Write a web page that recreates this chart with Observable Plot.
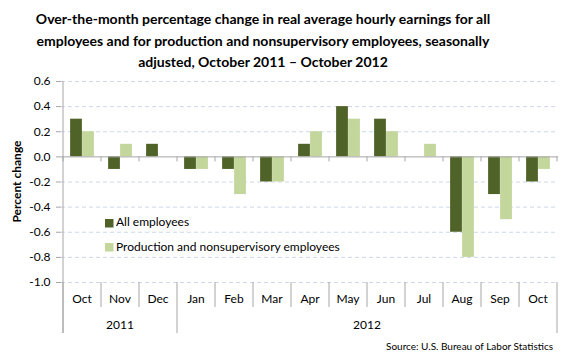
<!DOCTYPE html>
<html><head><meta charset="utf-8">
<script src="https://cdn.jsdelivr.net/npm/d3@7"></script>
<script src="https://cdn.jsdelivr.net/npm/@observablehq/plot@0.6"></script>
<style>
body{margin:0;background:#fff;}
#wrap{width:580px;height:363px;position:relative;overflow:hidden;font-family:Lato, sans-serif;}
#title{box-sizing:border-box;height:70px;padding-top:8px;width:526px;text-align:center;font-weight:bold;font-size:14px;line-height:21.5px;color:#000;white-space:nowrap;}
</style></head><body>
<div id="wrap"><div id="title">Over-the-month percentage change in real average hourly earnings for all<br>employees and for production and nonsupervisory employees, seasonally<br>adjusted, October 2011 – October 2012</div><div id="chart"></div></div>
<script>
const months = ["Oct","Nov","Dec","Jan","Feb","Mar","Apr","May","Jun","Jul","Aug","Sep","Oct"];
const years = ["2011","2011","2011","2012","2012","2012","2012","2012","2012","2012","2012","2012","2012"];
const allEmployees = [0.3,-0.1,0.1,-0.1,-0.1,-0.2,0.1,0.4,0.3,0.0,-0.6,-0.3,-0.2];
const productionNonsupervisory = [0.2,0.1,0.0,-0.1,-0.3,-0.2,0.2,0.3,0.2,0.1,-0.8,-0.5,-0.1];
const seriesNames = ["All employees","Production and nonsupervisory employees"];
const yTicks = [-1.0,-0.8,-0.6,-0.4,-0.2,0.0,0.2,0.4,0.6];
const colors = ["#4F6228","#C3D69B"];
const gray = "#A6A6A6";
const gridColor = "#CCD7EA";

const keys = months.map((m,i)=>`${m} ${years[i]}`);
const data = keys.map((k,i)=>({key:k, all:allEmployees[i], prod:productionNonsupervisory[i]}));

const W=580, H=293, mL=61, mR=22, mT=11, mB=81;
const bw = (W-mL-mR)/keys.length;
const barW = 12;
const half = bw/2;

function decor(index, scales, values, dimensions) {
  let sc = scales;
  if (index && typeof index.x === "function") sc = index;
  const x = sc.x, y = sc.y;
  const b = x.bandwidth();
  const yMin = y(d3.min(yTicks)), yZero = y(0), yTop = y(d3.max(yTicks));
  const g = d3.create("svg:g").attr("font-family","Lato, sans-serif").attr("text-anchor","start");
  const bounds = keys.map(k=>x(k)).concat([x(keys[keys.length-1])+b]);
  g.selectAll(null).data(bounds).join("line")
    .attr("x1",d=>d).attr("x2",d=>d).attr("y1",yZero).attr("y2",yZero+5).attr("stroke",gray);
  g.selectAll(null).data(bounds).join("line")
    .attr("x1",d=>d).attr("x2",d=>d).attr("y1",yMin)
    .attr("y2",(d,i)=> (i===0||i===keys.length||years[i]!==years[i-1]) ? yMin+51 : yMin+25)
    .attr("stroke",gray);
  g.append("line").attr("x1",bounds[0]).attr("x2",bounds[0]).attr("y1",yTop).attr("y2",yMin+51).attr("stroke",gray);
  g.selectAll(null).data(keys).join("text")
    .attr("x",k=>x(k)+b/2).attr("y",yMin+18).attr("text-anchor","middle").attr("dominant-baseline","middle")
    .attr("font-size",12).attr("fill","#000").text((k,i)=>months[i]);
  const groups = d3.groups(keys.map((k,i)=>({k,yr:years[i]})), d=>d.yr);
  groups.forEach(([yr,arr])=>{
    const x0 = x(arr[0].k), x1 = x(arr[arr.length-1].k)+b;
    g.append("text").attr("x",(x0+x1)/2).attr("y",yMin+44).attr("text-anchor","middle")
      .attr("dominant-baseline","middle").attr("font-size",12).attr("fill","#000").text(yr);
  });
  const leg = [[149,153],[173,177.5]];
  seriesNames.forEach((s,i)=>{
    g.append("rect").attr("x",105).attr("y",leg[i][0]).attr("width",8.5).attr("height",8.5).attr("fill",colors[i]);
    g.append("text").attr("x",116).attr("y",leg[i][1]).attr("text-anchor","start").attr("dominant-baseline","middle")
      .attr("font-size",12).attr("fill","#000").text(s);
  });
  g.append("text").attr("transform",`translate(18,${(yTop+yMin)/2}) rotate(-90)`)
    .attr("text-anchor","middle").attr("dominant-baseline","middle").attr("font-weight","bold")
    .attr("font-size",12).attr("fill","#000").text("Percent change");
  g.append("text").attr("x",553).attr("y",277).attr("text-anchor","end").attr("dominant-baseline","middle")
    .attr("font-size",10).attr("fill","#000").text("Source: U.S. Bureau of Labor Statistics");
  return g.node();
}

const hasAxis = typeof Plot.axisY === "function";
const marks = [
  Plot.ruleY(yTicks.filter(v=>v!==0), {stroke:gridColor, strokeDasharray:"4,3"}),
  Plot.barY(data, {x:"key", y:"all", fill:colors[0], insetLeft:half-barW, insetRight:half}),
  Plot.barY(data, {x:"key", y:"prod", fill:colors[1], insetLeft:half, insetRight:half-barW}),
  Plot.ruleY([0], {stroke:gray}),
  decor
];
if (hasAxis) marks.push(Plot.axisY(yTicks, {tickSize:5, tickPadding:6, tickFormat:d=>d.toFixed(1), fontSize:12, stroke:gray, fill:"#000", label:null}));

const chart = Plot.plot({
  width:W, height:H, marginLeft:mL, marginRight:mR, marginTop:mT, marginBottom:mB,
  style:{fontFamily:"Lato, sans-serif", fontSize:"12px", color:"#000", background:"#fff", overflow:"visible"},
  x:{type:"band", domain:keys, padding:0, axis:null},
  y:{domain:[d3.min(yTicks), d3.max(yTicks)], ...(hasAxis ? {axis:null} : {ticks:yTicks, tickSize:5, tickPadding:6, tickFormat:d=>d.toFixed(1), label:null})},
  marks
});
document.getElementById("chart").appendChild(chart);
</script>
</body></html>
